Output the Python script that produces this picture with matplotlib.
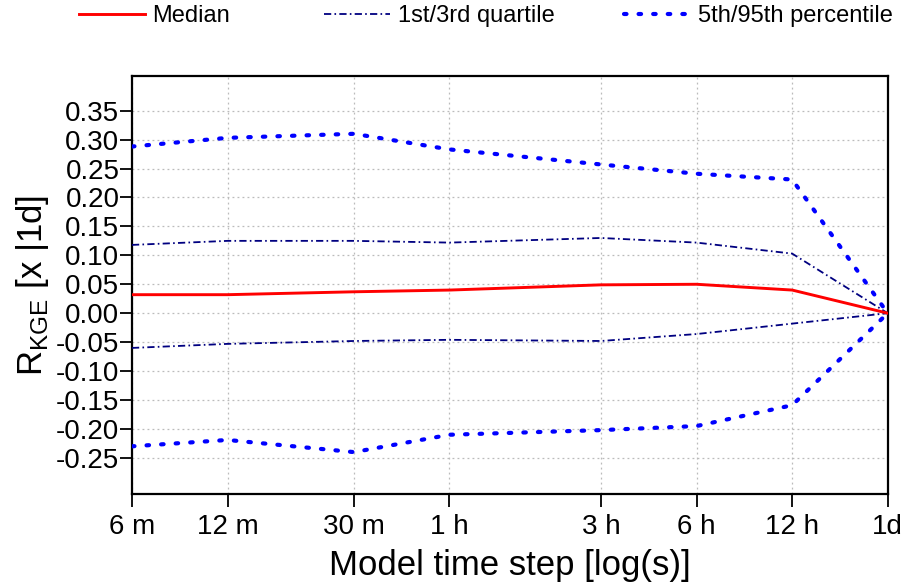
import numpy as np
import matplotlib.pyplot as plt
from matplotlib.lines import Line2D

plt.rcParams['font.family'] = ['Liberation Sans', 'DejaVu Sans']
plt.rcParams['mathtext.fontset'] = 'custom'
plt.rcParams['mathtext.rm'] = 'Liberation Sans'

# paso de tiempo del modelo en segundos
pasos = [360, 720, 1800, 3600, 10800, 21600, 43200, 86400]
etiquetas = ['6 m', '12 m', '30 m', '1 h', '3 h', '6 h', '12 h', '1d']

mediana = [0.032, 0.032, 0.037, 0.040, 0.049, 0.050, 0.040, 0.0]
q1 = [-0.060, -0.053, -0.048, -0.046, -0.048, -0.036, -0.018, 0.0]
q3 = [0.118, 0.125, 0.125, 0.122, 0.130, 0.122, 0.103, 0.0]
p05 = [-0.230, -0.219, -0.240, -0.210, -0.202, -0.195, -0.159, 0.0]
p95 = [0.288, 0.303, 0.310, 0.283, 0.257, 0.241, 0.231, 0.0]

nombres = ['Median', '1st/3rd quartile', '5th/95th percentile']

est_med = dict(color='red', lw=2.1)
est_q = dict(color='#000080', lw=1.3, dashes=(4.0, 1.8, 0.9, 1.8))
est_p = dict(color='blue', lw=3.0, dashes=(0.6, 2.9), dash_capstyle='round')

fig = plt.figure(figsize=(9.04, 5.84), dpi=100)
ax = fig.add_axes([0.146, 0.154, 0.836, 0.716])

ax.plot(pasos, mediana, zorder=5, **est_med)
ax.plot(pasos, q3, zorder=4, **est_q)
ax.plot(pasos, q1, zorder=4, **est_q)
ax.plot(pasos, p95, zorder=4, **est_p)
ax.plot(pasos, p05, zorder=4, **est_p)

ax.set_xscale('log')
ax.set_xlim(pasos[0], pasos[-1])
ax.set_ylim(-0.3125, 0.41)
ax.set_xticks(pasos)
ax.set_xticklabels(etiquetas)
ax.minorticks_off()
yt = np.arange(-0.25, 0.351, 0.05)
ax.set_yticks(yt)
ax.set_yticklabels(['%.2f' % v if abs(v) > 1e-9 else '0.00' for v in yt])
ax.tick_params(labelsize=20, length=9, width=1.3, direction='out')
ax.tick_params(axis='y', pad=0)
ax.tick_params(axis='x', pad=5)
ax.grid(True, color='#bbbbbb', linestyle=(0, (1.5, 2.5)), lw=0.9)
for s in ax.spines.values():
    s.set_linewidth(1.6)

ax.set_xlabel('Model time step [log(s)]', fontsize=25, labelpad=7)
ax.set_ylabel(r'R$_{\mathrm{KGE}}$ [x |1d]', fontsize=25, labelpad=4)

# leyenda arriba, cada entrada colocada por separado
manejadores = [Line2D([], [], **est_med), Line2D([], [], **est_q), Line2D([], [], **est_p)]
posiciones = [77 / 904, 322 / 904, 622 / 904]
for h, n, x0 in zip(manejadores, nombres, posiciones):
    fig.legend([h], [n], loc='upper left', bbox_to_anchor=(x0, 1.0 - 3 / 584), frameon=False,
               fontsize=17, handlelength=2.8, handletextpad=0.3,
               borderpad=0.1, borderaxespad=0)

fig.savefig('out.png', dpi=100)
